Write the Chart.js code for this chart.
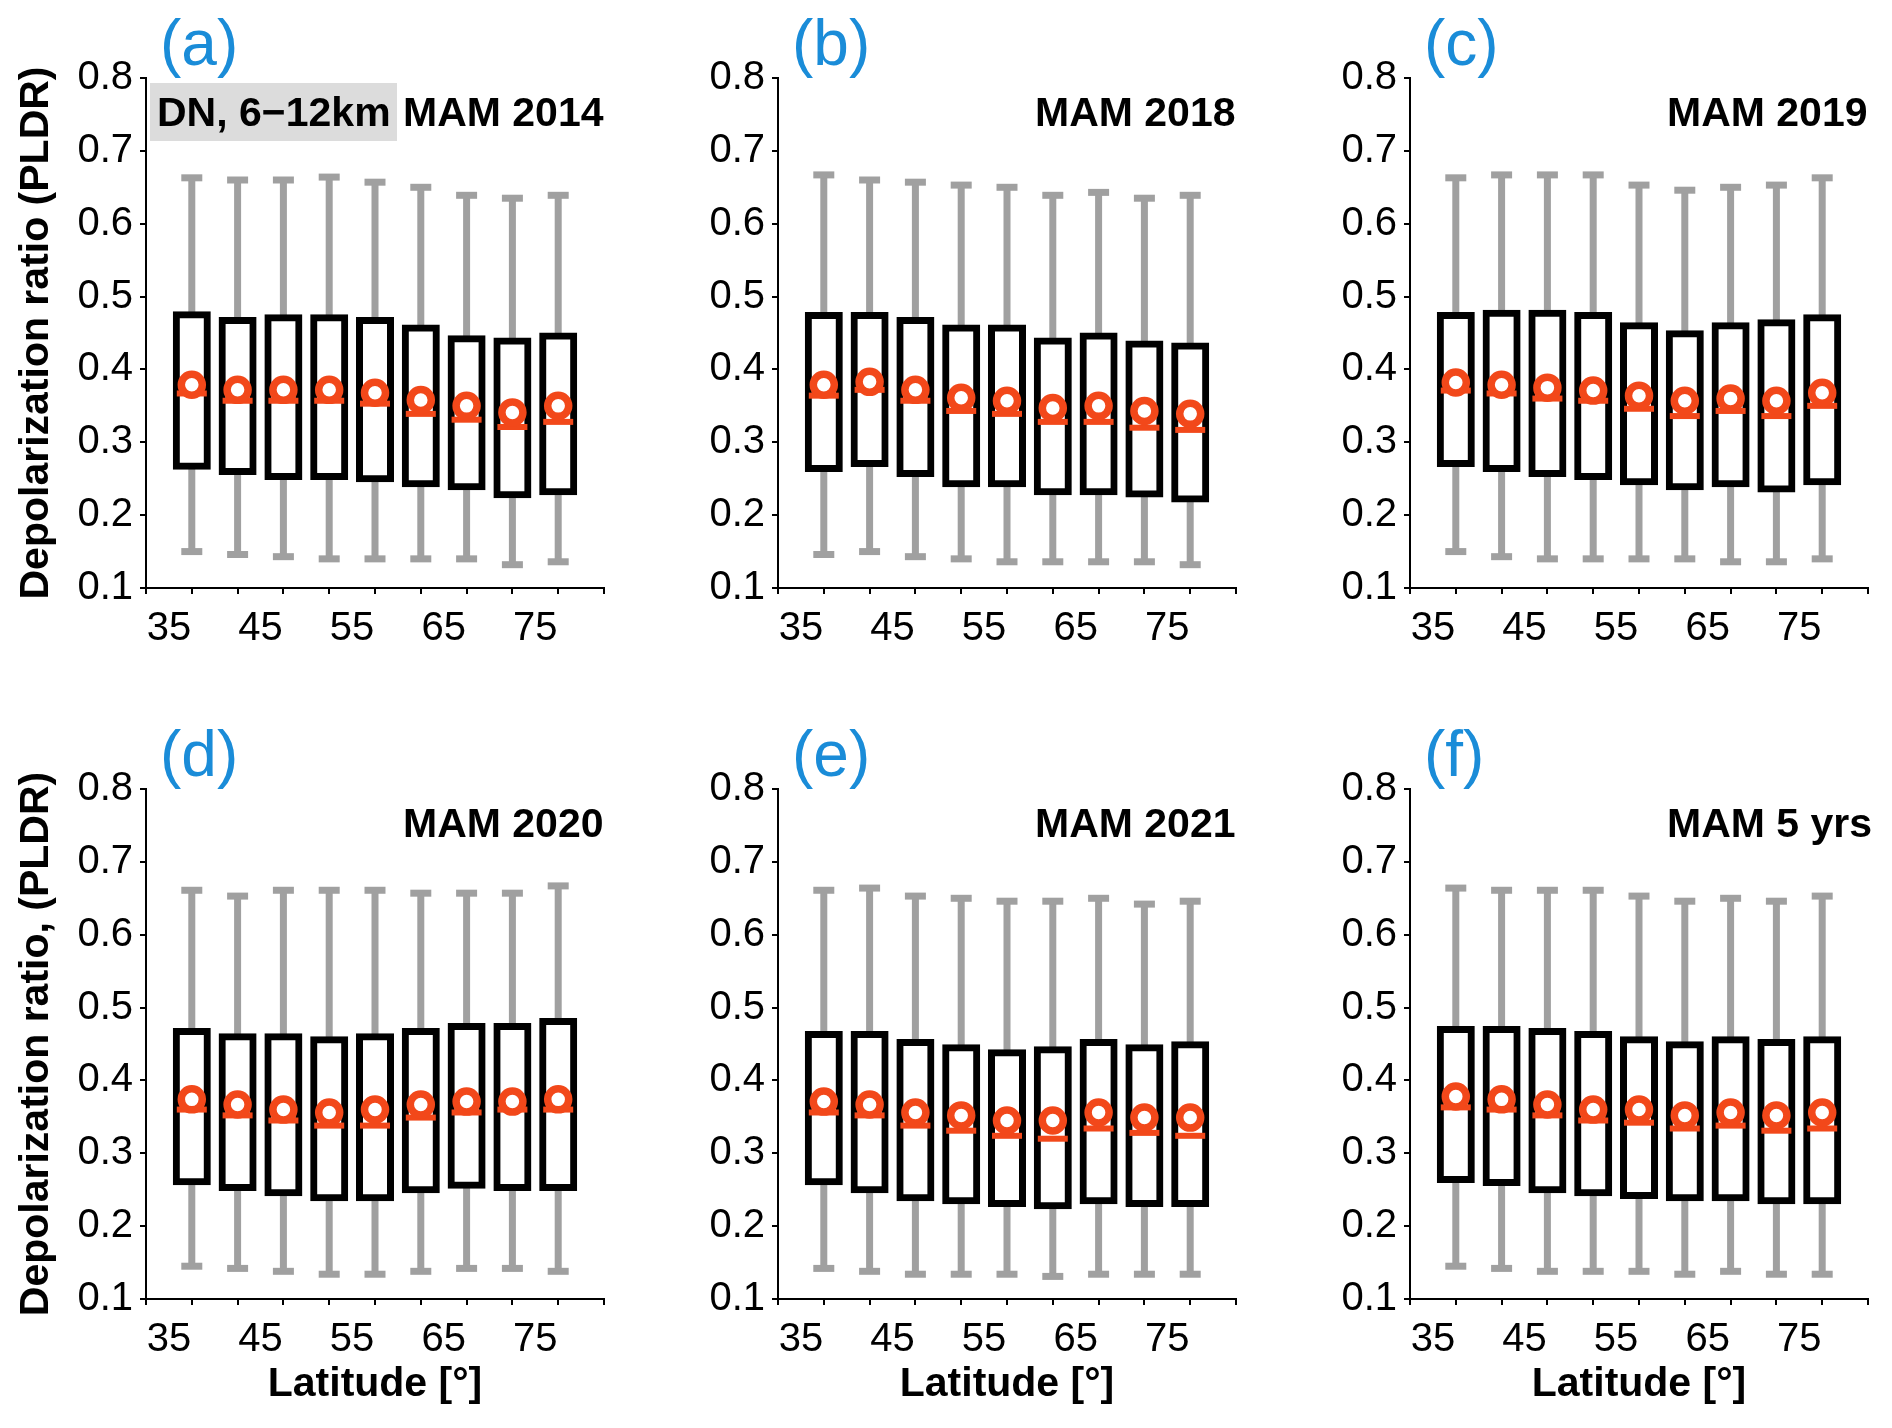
<!DOCTYPE html>
<html>
<head>
<meta charset="utf-8">
<script src="https://cdn.jsdelivr.net/npm/chart.js@4.4.1/dist/chart.umd.min.js"></script>
<style>
  html, body { margin: 0; padding: 0; background: #fff; }
  body { width: 1892px; height: 1428px; position: relative; overflow: hidden; }
  canvas { position: absolute; }
</style>
</head>
<body>
<canvas id="pa" width="625" height="708" style="left:0px;top:0px"></canvas>
<canvas id="pb" width="625" height="708" style="left:632px;top:0px"></canvas>
<canvas id="pc" width="625" height="708" style="left:1264px;top:0px"></canvas>
<canvas id="pd" width="625" height="708" style="left:0px;top:711px"></canvas>
<canvas id="pe" width="625" height="708" style="left:632px;top:711px"></canvas>
<canvas id="pf" width="625" height="708" style="left:1264px;top:711px"></canvas>
<script>
// === DATA ===
const latitude = [37.5, 42.5, 47.5, 52.5, 57.5, 62.5, 67.5, 72.5, 77.5];
const xTickValues = [35, 40, 45, 50, 55, 60, 65, 70, 75, 80];
const xTickLabels = [35, 45, 55, 65, 75];

// (a) MAM 2014
const hi2014   = [0.663, 0.660, 0.660, 0.664, 0.657, 0.650, 0.639, 0.635, 0.639];
const q3_2014  = [0.475, 0.467, 0.471, 0.471, 0.467, 0.457, 0.442, 0.439, 0.446];
const mean2014 = [0.379, 0.372, 0.372, 0.372, 0.368, 0.358, 0.350, 0.341, 0.350];
const med2014  = [0.367, 0.357, 0.357, 0.357, 0.353, 0.339, 0.331, 0.321, 0.328];
const q1_2014  = [0.267, 0.260, 0.253, 0.253, 0.250, 0.243, 0.239, 0.228, 0.232];
const lo2014   = [0.150, 0.146, 0.143, 0.140, 0.140, 0.140, 0.140, 0.132, 0.136];

// (b) MAM 2018
const hi2018   = [0.667, 0.660, 0.657, 0.653, 0.650, 0.639, 0.643, 0.635, 0.639];
const q3_2018  = [0.474, 0.474, 0.467, 0.457, 0.457, 0.439, 0.446, 0.435, 0.432];
const mean2018 = [0.379, 0.383, 0.372, 0.361, 0.357, 0.347, 0.350, 0.343, 0.339];
const med2018  = [0.364, 0.372, 0.357, 0.343, 0.339, 0.328, 0.328, 0.320, 0.317];
const q1_2018  = [0.264, 0.271, 0.257, 0.243, 0.243, 0.232, 0.232, 0.229, 0.222];
const lo2018   = [0.146, 0.150, 0.143, 0.140, 0.136, 0.136, 0.136, 0.136, 0.132];

// (c) MAM 2019
const hi2019   = [0.663, 0.667, 0.667, 0.667, 0.653, 0.646, 0.650, 0.653, 0.663];
const q3_2019  = [0.474, 0.477, 0.477, 0.474, 0.460, 0.449, 0.460, 0.464, 0.471];
const mean2019 = [0.382, 0.379, 0.375, 0.371, 0.364, 0.357, 0.360, 0.357, 0.368];
const med2019  = [0.371, 0.367, 0.360, 0.357, 0.346, 0.336, 0.343, 0.336, 0.350];
const q1_2019  = [0.271, 0.264, 0.257, 0.253, 0.246, 0.239, 0.243, 0.236, 0.246];
const lo2019   = [0.150, 0.143, 0.140, 0.140, 0.140, 0.140, 0.136, 0.136, 0.140];

// (d) MAM 2020
const hi2020   = [0.661, 0.653, 0.661, 0.661, 0.661, 0.657, 0.657, 0.657, 0.667];
const q3_2020  = [0.467, 0.460, 0.460, 0.456, 0.460, 0.467, 0.474, 0.474, 0.481];
const mean2020 = [0.374, 0.367, 0.360, 0.356, 0.360, 0.367, 0.371, 0.371, 0.374];
const med2020  = [0.360, 0.352, 0.345, 0.338, 0.338, 0.349, 0.356, 0.360, 0.360];
const q1_2020  = [0.261, 0.253, 0.246, 0.239, 0.239, 0.250, 0.256, 0.253, 0.253];
const lo2020   = [0.145, 0.142, 0.138, 0.134, 0.134, 0.138, 0.142, 0.142, 0.138];

// (e) MAM 2021
const hi2021   = [0.661, 0.664, 0.653, 0.650, 0.646, 0.646, 0.650, 0.642, 0.646];
const q3_2021  = [0.463, 0.463, 0.452, 0.445, 0.438, 0.442, 0.452, 0.445, 0.449];
const mean2021 = [0.371, 0.367, 0.356, 0.352, 0.345, 0.345, 0.356, 0.349, 0.349];
const med2021  = [0.356, 0.352, 0.338, 0.331, 0.324, 0.320, 0.334, 0.328, 0.324];
const q1_2021  = [0.261, 0.250, 0.239, 0.235, 0.231, 0.228, 0.235, 0.231, 0.231];
const lo2021   = [0.142, 0.138, 0.134, 0.134, 0.134, 0.131, 0.134, 0.134, 0.134];

// (f) MAM 5 yrs
const hi5yr    = [0.664, 0.661, 0.661, 0.661, 0.653, 0.646, 0.650, 0.646, 0.653];
const q3_5yr   = [0.470, 0.470, 0.467, 0.463, 0.456, 0.449, 0.456, 0.452, 0.456];
const mean5yr  = [0.378, 0.374, 0.367, 0.360, 0.360, 0.352, 0.356, 0.352, 0.356];
const med5yr   = [0.363, 0.360, 0.352, 0.345, 0.342, 0.334, 0.338, 0.331, 0.334];
const q1_5yr   = [0.264, 0.260, 0.250, 0.246, 0.242, 0.239, 0.239, 0.235, 0.235];
const lo5yr    = [0.145, 0.142, 0.138, 0.138, 0.138, 0.134, 0.138, 0.134, 0.134];

// === STYLE ===
const FONT = '"Liberation Sans", Arial, Helvetica, sans-serif';
const GRAY = "#a0a0a0";
const RED = "#f2481a";
const BLUE = "#1a8cd8";

Chart.defaults.font.family = FONT;
Chart.defaults.color = "#000";

// panel tag, season text and the grey badge
const panelText = {
  id: "panelText",
  afterDraw(chart, args, opts) {
    const { ctx, chartArea } = chart;
    ctx.save();
    ctx.textBaseline = "alphabetic";
    ctx.textAlign = "left";
    ctx.font = "64px " + FONT;
    ctx.fillStyle = BLUE;
    ctx.fillText(opts.tag, chartArea.left + 14, chartArea.top - 13);

    if (opts.badge) {
      ctx.fillStyle = "#dcdcdc";
      ctx.fillRect(chartArea.left + 4, chartArea.top + 5, 247, 58);
      ctx.fillStyle = "#000";
      ctx.font = "bold 41px " + FONT;
      ctx.fillText(opts.badge, chartArea.left + 11, chartArea.top + 48);
    }

    ctx.fillStyle = "#000";
    ctx.font = "bold 41px " + FONT;
    ctx.fillText(opts.season, chartArea.left + 257, chartArea.top + 48);
    ctx.restore();
  }
};

function pts(ys) {
  return latitude.map((x, i) => ({ x: x, y: ys[i] }));
}
function ranges(a, b) {
  return latitude.map((x, i) => ({ x: x, y: [a[i], b[i]] }));
}

function makePanel(id, p) {
  const ctx = document.getElementById(id).getContext("2d");
  return new Chart(ctx, {
    type: "bar",
    data: {
      datasets: [
        { // mean
          type: "scatter", data: pts(p.mean), order: 1,
          pointStyle: "circle", pointRadius: 10.5, pointBorderWidth: 7.5,
          pointBackgroundColor: "#fff", pointBorderColor: RED, showLine: false
        },
        { // median
          type: "scatter", data: pts(p.med), order: 2,
          pointStyle: "line", pointRadius: 15, pointBorderWidth: 6,
          pointBorderColor: RED, showLine: false
        },
        { // whisker caps
          type: "scatter", data: pts(p.hi).concat(pts(p.lo)), order: 3,
          pointStyle: "line", pointRadius: 10.5, pointBorderWidth: 7,
          pointBorderColor: GRAY, showLine: false
        },
        { // box
          type: "bar", data: ranges(p.q1, p.q3), order: 4,
          backgroundColor: "#fff", borderColor: "#000", borderWidth: 7,
          borderSkipped: false, inflateAmount: 3.5, barThickness: 31, grouped: false
        },
        { // whisker line
          type: "bar", data: ranges(p.lo, p.hi), order: 5,
          backgroundColor: GRAY, borderWidth: 0,
          inflateAmount: 0, barThickness: 7, grouped: false
        }
      ]
    },
    options: {
      responsive: false,
      devicePixelRatio: 1,
      animation: false,
      events: [],
      layout: { padding: { left: 12, top: 78, right: 20, bottom: 10 } },
      plugins: {
        legend: { display: false },
        tooltip: { enabled: false },
        panelText: { tag: p.tag, season: p.season, badge: p.badge }
      },
      scales: {
        x: {
          type: "linear",
          min: 32.5, max: 82.5,
          offset: false,
          afterBuildTicks: (scale) => { scale.ticks = xTickValues.map((v) => ({ value: v })); },
          afterFit: (scale) => { scale.height = 110; },
          ticks: {
            autoSkip: false, maxRotation: 0, padding: 11,
            font: { size: 40 }, color: "#000",
            callback: (v) => (xTickLabels.includes(v) ? String(v) : "")
          },
          grid: { display: true, drawOnChartArea: false, drawTicks: true, tickLength: 6, color: "#000", lineWidth: 2 },
          border: { display: true, color: "#000", width: 2 },
          title: {
            display: p.xTitle, text: "Latitude [°]",
            font: { size: 41, weight: "bold" }, color: "#000", padding: { top: 0, bottom: 0 }
          }
        },
        y: {
          type: "linear",
          min: 0.1, max: 0.8,
          afterFit: (scale) => { scale.width = 134; },
          ticks: {
            stepSize: 0.1, padding: 7,
            font: { size: 40 }, color: "#000",
            callback: (v) => v.toFixed(1)
          },
          grid: { display: true, drawOnChartArea: false, drawTicks: true, tickLength: 6, color: "#000", lineWidth: 2 },
          border: { display: true, color: "#000", width: 2 },
          title: {
            display: !!p.yTitle, text: p.yTitle || "",
            font: { size: 41, weight: "bold" }, color: "#000", padding: { top: 0, bottom: 0 }
          }
        }
      }
    },
    plugins: [panelText]
  });
}

makePanel("pa", { tag: "(a)", season: "MAM 2014", badge: "DN, 6\u221212km", yTitle: "Depolarization ratio (PLDR)", xTitle: false,
  hi: hi2014, q3: q3_2014, mean: mean2014, med: med2014, q1: q1_2014, lo: lo2014 });
makePanel("pb", { tag: "(b)", season: "MAM 2018", xTitle: false,
  hi: hi2018, q3: q3_2018, mean: mean2018, med: med2018, q1: q1_2018, lo: lo2018 });
makePanel("pc", { tag: "(c)", season: "MAM 2019", xTitle: false,
  hi: hi2019, q3: q3_2019, mean: mean2019, med: med2019, q1: q1_2019, lo: lo2019 });
makePanel("pd", { tag: "(d)", season: "MAM 2020", yTitle: "Depolarization ratio, (PLDR)", xTitle: true,
  hi: hi2020, q3: q3_2020, mean: mean2020, med: med2020, q1: q1_2020, lo: lo2020 });
makePanel("pe", { tag: "(e)", season: "MAM 2021", xTitle: true,
  hi: hi2021, q3: q3_2021, mean: mean2021, med: med2021, q1: q1_2021, lo: lo2021 });
makePanel("pf", { tag: "(f)", season: "MAM 5 yrs", xTitle: true,
  hi: hi5yr, q3: q3_5yr, mean: mean5yr, med: med5yr, q1: q1_5yr, lo: lo5yr });
</script>
</body>
</html>
